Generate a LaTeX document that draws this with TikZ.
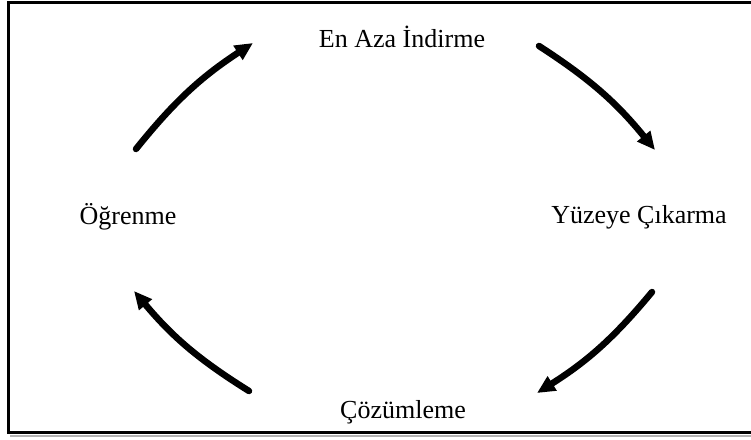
\documentclass[tikz,border=0pt]{standalone}
\usepackage{fontspec}
\setmainfont{Liberation Serif}
\usetikzlibrary{arrows.meta}
\begin{document}
\begin{tikzpicture}[x=1pt,y=1pt,
  lbl/.style={font=\fontsize{26}{28}\selectfont, inner sep=0pt, anchor=base},
  cyc/.style={line width=6.5pt, black, line cap=round,
    -{Triangle[length=18pt,width=16pt]}, bend left=9}]
\useasboundingbox (0,0) rectangle (751,-439);
\fill[white] (0,0) rectangle (751,-439);
% frame with faint shadow
\draw[gray!60, line width=2pt] (10,-436) -- (760,-436);
\draw[line width=3pt] (8,-2) rectangle (755,-432);
% labels
\node[lbl] (top) at (402,-47) {En Aza İndirme};
\node[lbl] (right) at (639,-223) {Yüzeye Çıkarma};
\node[lbl] (bottom) at (403,-418) {Çözümleme};
\node[lbl] (left) at (128,-224) {Öğrenme};
% arrow end points
\coordinate (a1s) at (136,-149);
\coordinate (a1e) at (253,-43);
\coordinate (a2s) at (539,-46);
\coordinate (a2e) at (655,-150);
\coordinate (a3s) at (652,-292);
\coordinate (a3e) at (537,-393);
\coordinate (a4s) at (249,-391);
\coordinate (a4e) at (134,-291);
\draw[cyc] (a1s) to (a1e);
\draw[cyc] (a2s) to (a2e);
\draw[cyc] (a3s) to (a3e);
\draw[cyc] (a4s) to (a4e);
\end{tikzpicture}
\end{document}
